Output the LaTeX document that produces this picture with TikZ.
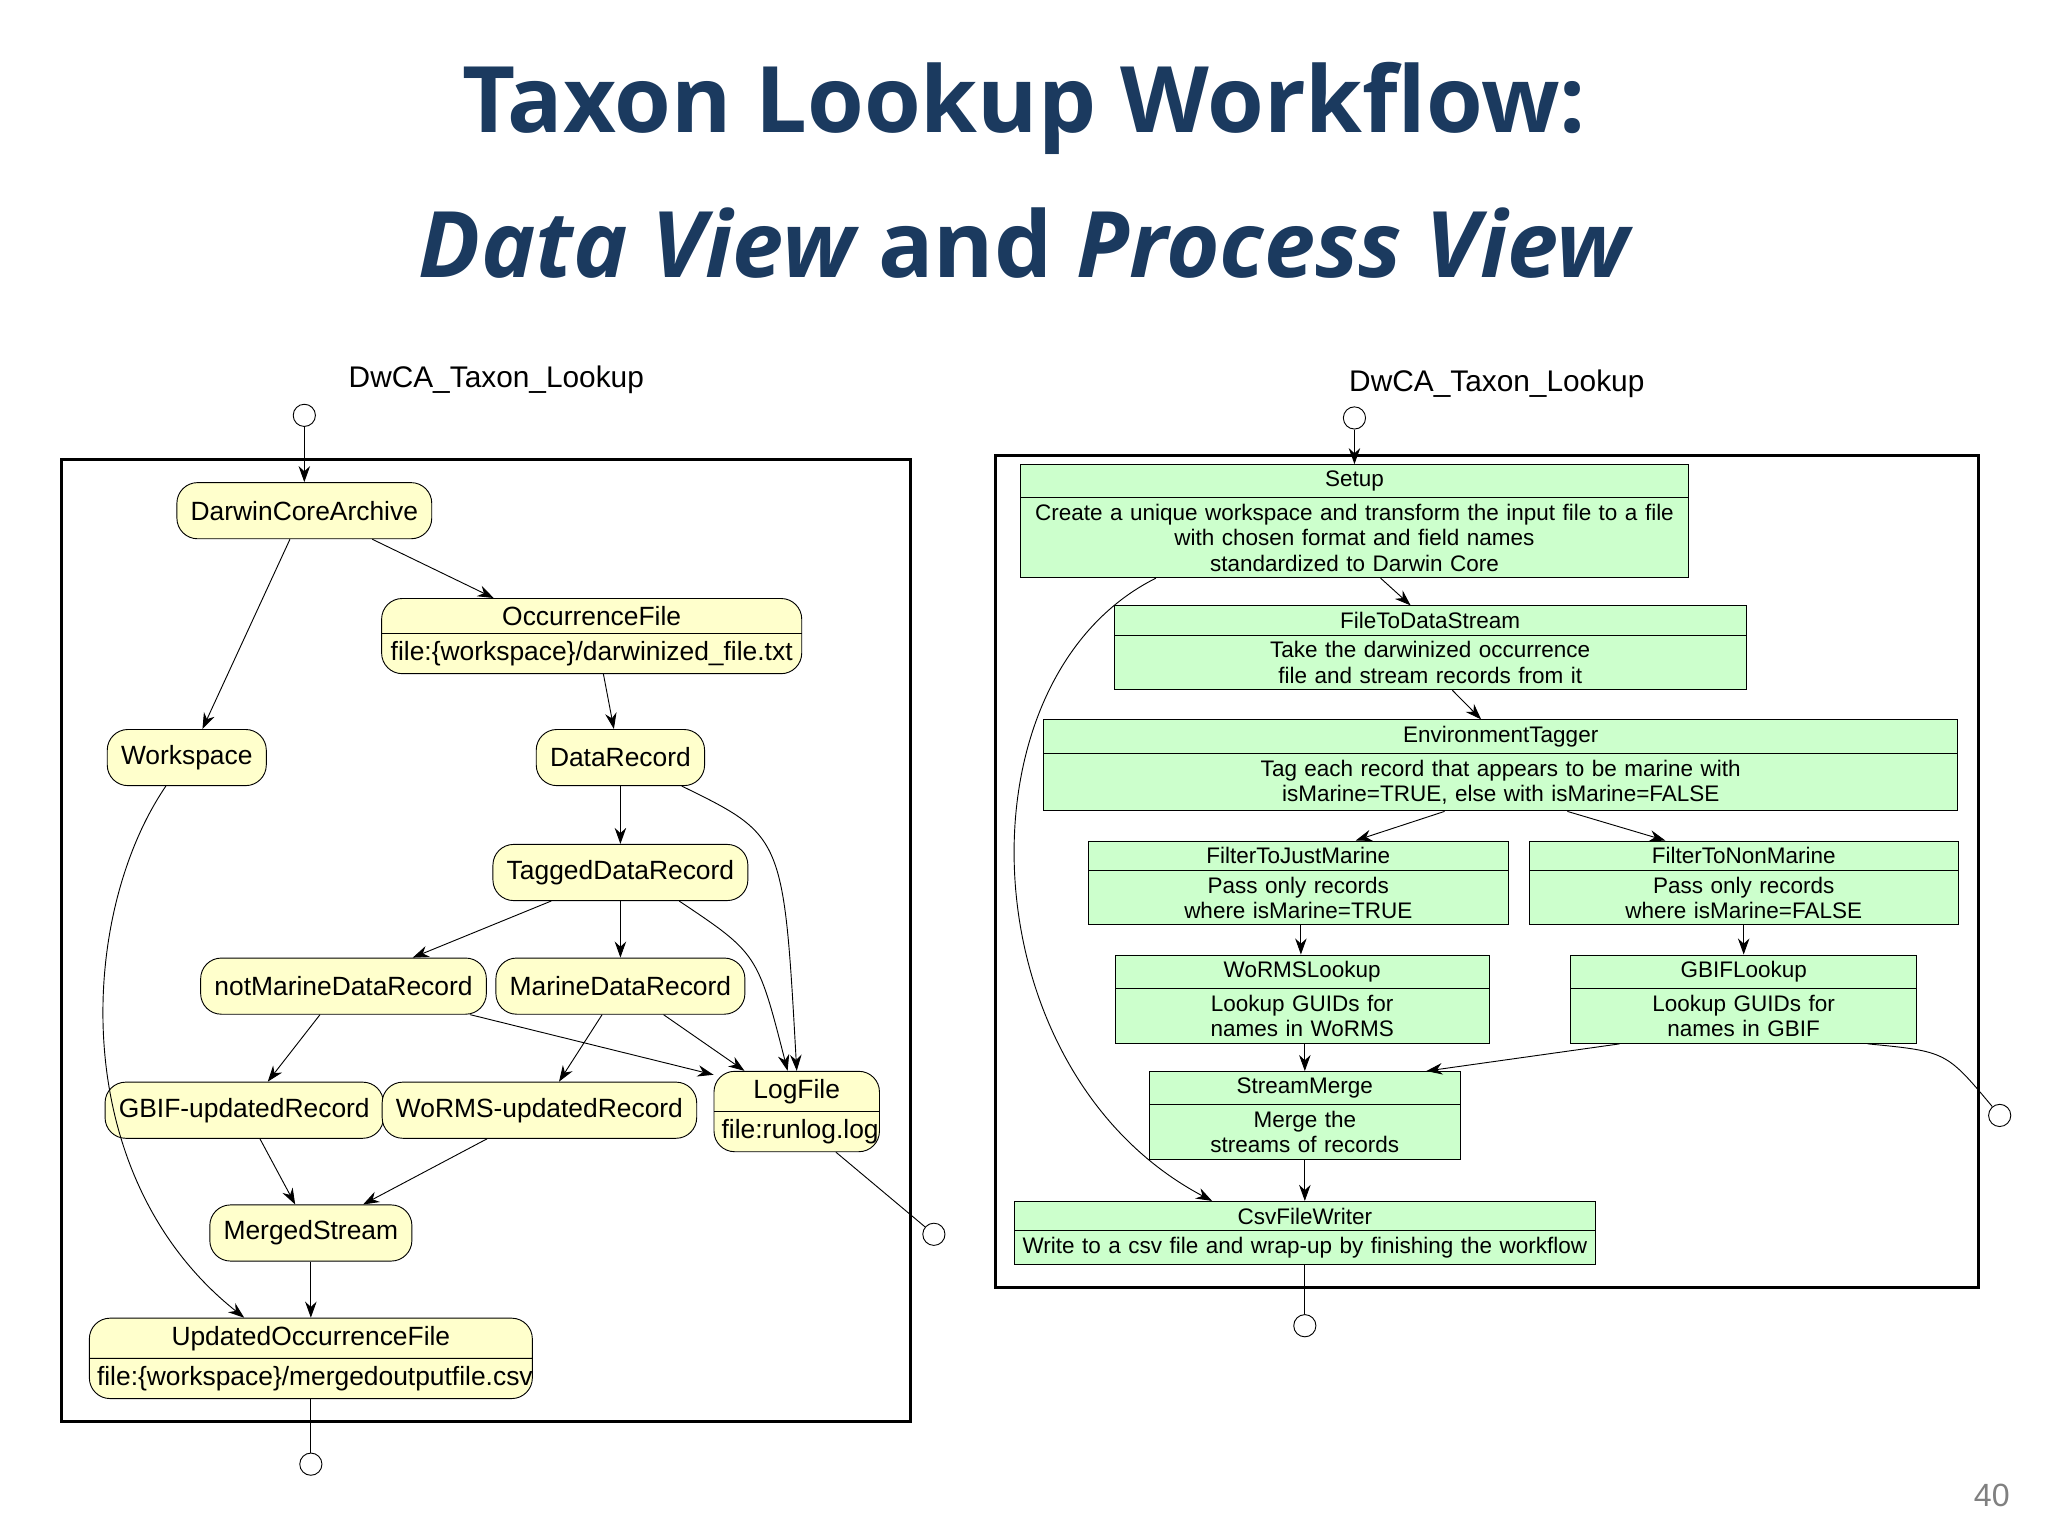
\documentclass[tikz,border=0pt]{standalone}
\usepackage{fontspec}
\setmainfont{Liberation Sans}
\newfontfamily\titlefont{Open Sans}
\usetikzlibrary{shapes.multipart,calc,arrows.meta}
\definecolor{navy}{HTML}{1B3A5F}
\definecolor{ylw}{HTML}{FFFFCC}
\definecolor{grn}{HTML}{CCFFCC}
\begin{document}
\begin{tikzpicture}[x=0.02cm,y=-0.02cm,
  yn/.style={draw,fill=ylw,rounded corners=9pt,font=\fontsize{11.5}{13}\selectfont,minimum height=0.86cm,inner xsep=6pt},
  ys/.style={draw,fill=ylw,rounded corners=9pt,font=\fontsize{11.5}{13}\selectfont,rectangle split,rectangle split parts=2,align=center,inner ysep=3.2pt},
  gs/.style={draw,fill=grn,font=\fontsize{9.8}{11}\selectfont,rectangle split,rectangle split parts=2,align=center,inner ysep=2.6pt},
  port/.style={draw,circle,fill=white,minimum size=0.34cm,inner sep=0pt},
  ar/.style={-{Stealth[length=7pt,width=5pt]}},
  ln/.style={}]
\useasboundingbox (0,0) rectangle (1568,1176);
% title
\node[font=\titlefont\bfseries\fontsize{40}{48}\selectfont,text=navy] (t1) at (784,83) {Taxon Lookup Workflow:};
\node[font=\titlefont\bfseries\fontsize{40}{48}\selectfont,text=navy] (t2) at (784,186) {\itshape Data View \upshape and \itshape Process View};
\node[text=gray,font=\fontsize{14}{16}\selectfont] (pg) at (1525,1145) {40};
% ---------------- left panel
\draw[line width=1.3pt] (47,352) rectangle (697,1088);
\node[font=\fontsize{13}{15}\selectfont] (lt) at (380,291) {DwCA\_Taxon\_Lookup};
\node[port] (lin) at (233,318) {};
\node[port] (lout) at (715,945) {};
\node[port] (lbot) at (238,1121) {};
\node[yn,minimum width=3.7cm] (dca) at (233,391) {DarwinCoreArchive};
\node[ys,text width=6.2cm] (occ) at (453,487) {OccurrenceFile\nodepart{two}file:\{workspace\}/darwinized\_file.txt};
\node[yn,minimum width=2.2cm] (ws) at (143,580) {Workspace};
\node[yn,minimum width=2.34cm] (dr) at (475,580) {DataRecord};
\node[yn,minimum width=3.5cm] (tdr) at (475,668) {TaggedDataRecord};
\node[yn,minimum width=4.06cm] (nmd) at (263,755) {notMarineDataRecord};
\node[yn,minimum width=3.44cm] (md) at (475,755) {MarineDataRecord};
\node[yn,minimum width=3.8cm] (gur) at (187,850) {GBIF-updatedRecord};
\node[yn,minimum width=4.3cm] (wur) at (413,850) {WoRMS-updatedRecord};
\node[ys,text width=2.3cm] (log) at (610,851) {LogFile\nodepart{two}file:runlog.log};
\node[yn,minimum width=2.86cm] (ms) at (238,944) {MergedStream};
\node[ys,text width=6.55cm] (uof) at (238,1040) {UpdatedOccurrenceFile\nodepart{two}file:\{workspace\}/mergedoutputfile.csv};
\draw[ar] (lin) -- (dca);
\draw[ar] ($(dca.south)+(52,0)$) -- ($(occ.north)+(-75,0)$);
\draw[ar] ($(dca.south)+(-11,0)$) -- ($(ws.north)+(12,0)$);
\draw[ar] ($(occ.south)+(9,0)$) -- ($(dr.north)+(-5,0)$);
\draw[ar] (dr) -- (tdr);
\draw[ar] ($(dr.south)+(47,0)$) .. controls (600,640) .. ($(log.north)+(0,0)$);
\draw[ar] ($(tdr.south)+(-53,0)$) -- ($(nmd.north)+(53,0)$);
\draw[ar] (tdr) -- (md);
\draw[ar] ($(tdr.south)+(45,0)$) .. controls (580,730) .. ($(log.north)+(-7,0)$);
\draw[ar] ($(nmd.south)+(-18,0)$) -- ($(gur.north)+(18,0)$);
\draw[ar] ($(nmd.south)+(97,0)$) -- ($(log.north west)+(0,3)$);
\draw[ar] ($(md.south)+(-14,0)$) -- ($(wur.north)+(15,0)$);
\draw[ar] ($(md.south)+(33,0)$) -- ($(log.north)+(-40,0)$);
\draw[ar] ($(gur.south)+(12,0)$) -- ($(ms.north)+(-12,0)$);
\draw[ar] ($(wur.south)+(-40,0)$) -- ($(ms.north)+(40,0)$);
\draw[ar] (ms) -- (uof);
\draw[ar] ($(ws.south)+(-16,0)$) .. controls (60,700) and (50,900) .. ($(uof.north)+(-51,0)$);
\draw ($(log.south)+(30,0)$) -- (lout);
\draw (uof) -- (lbot);
% ---------------- right panel
\draw[line width=1.3pt] (762,349) rectangle (1515,986);
\node[font=\fontsize{13}{15}\selectfont] (rt) at (1146,294) {DwCA\_Taxon\_Lookup};
\node[port] (rin) at (1037,320) {};
\node[port] (rout) at (1531,854) {};
\node[port] (rbot) at (999,1015) {};
\node[gs,text width=10.0cm] (setup) at (1037,399) {Setup\nodepart{two}Create a unique workspace and transform the input file to a file\\with chosen format and field names standardized to Darwin Core};
\node[gs,text width=9.45cm] (ftd) at (1095,496) {FileToDataStream\nodepart{two}Take the darwinized occurrence file and stream records from it};
\node[gs,text width=13.77cm] (env) at (1149,586) {EnvironmentTagger\nodepart{two}Tag each record that appears to be marine with isMarine=TRUE, else with isMarine=FALSE};
\node[gs,text width=6.2cm] (fjm) at (994,676) {FilterToJustMarine\nodepart{two}Pass only records where isMarine=TRUE};
\node[gs,text width=6.33cm] (fnm) at (1335,676) {FilterToNonMarine\nodepart{two}Pass only records where isMarine=FALSE};
\node[gs,text width=5.49cm] (wl) at (997,765) {WoRMSLookup\nodepart{two}Lookup GUIDs for names in WoRMS};
\node[gs,text width=5.07cm] (gl) at (1335,765) {GBIFLookup\nodepart{two}Lookup GUIDs for names in GBIF};
\node[gs,text width=4.53cm] (sm) at (999,854) {StreamMerge\nodepart{two}Merge the streams of records};
\node[gs,text width=8.67cm] (csv) at (999,944) {CsvFileWriter\nodepart{two}Write to a csv file and wrap-up by finishing the workflow};
\draw[ar] (rin) -- (setup);
\draw[ar] ($(setup.south)+(20,0)$) -- ($(ftd.north)+(-15,0)$);
\draw[ar] ($(ftd.south)+(17,0)$) -- ($(env.north)+(-15,0)$);
\draw[ar] ($(env.south)+(-43,0)$) -- ($(fjm.north)+(44,0)$);
\draw[ar] ($(env.south)+(51,0)$) -- ($(fnm.north)+(-60,0)$);
\draw[ar] ($(fjm.south)+(2,0)$) -- ($(wl.north)+(-1,0)$);
\draw[ar] (fnm) -- (gl);
\draw[ar] ($(wl.south)+(2,0)$) -- (sm);
\draw[ar] ($(gl.south)+(-95,0)$) -- ($(sm.north)+(93,0)$);
\draw[ar] (sm) -- (csv);
\draw[ar] ($(setup.south)+(-152,0)$) .. controls (730,520) and (740,820) .. ($(csv.north)+(-71,0)$);
\draw ($(gl.south)+(95,0)$) .. controls (1490,805) .. (rout);
\draw (csv) -- (rbot);
\end{tikzpicture}
\end{document}
